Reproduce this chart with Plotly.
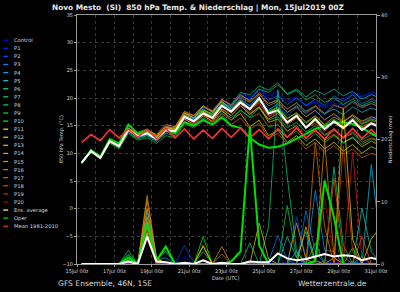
import plotly.graph_objects as go
import pandas as pd

# ---------------- data ----------------
times = pd.date_range("2019-07-15 06:00", periods=33, freq="12h")

member_names = ["Control", "P1", "P2", "P3", "P4", "P5", "P6", "P7", "P8", "P9", "P10",
                "P11", "P12", "P13", "P14", "P15", "P16", "P17", "P18", "P19", "P20"]
member_colors = ["#0000ff", "#0020ff", "#0050ff", "#0080ff", "#00a8ff", "#00cce8", "#00dcb0",
                 "#00dc90", "#00dc70", "#00e040", "#00ff00", "#f0f000", "#f0d800", "#f0c000",
                 "#f0a800", "#f09000", "#f07800", "#f06000", "#f04000", "#e02020", "#b00000"]

t_control = [8.2,10.5,9.3,12.3,11.4,14.6,13.4,14.2,13.0,15.0,14.6,17.4,16.6,18.2,17.6,19.8,18.8,20.6,19.8,21.4,20.0,20.8,19.2,20.4,18.6,19.4,18.4,19.6,19.8,21.0,20.4,20.8,20.6]
t_p1 = [8.4,10.3,9.1,12.0,11.2,14.0,12.9,13.8,12.8,14.6,14.2,17.0,16.0,17.8,17.0,19.6,18.6,20.8,20.2,21.6,20.4,21.2,19.6,20.0,18.8,19.2,18.2,19.0,18.8,20.6,20.2,21.0,20.8]
t_p2 = [8.3,10.6,9.4,12.4,11.6,14.4,13.2,13.4,12.4,14.0,13.6,16.2,15.4,17.0,16.6,18.8,17.8,19.6,18.4,20.2,18.0,18.8,16.8,18.2,16.6,17.6,16.2,17.0,15.8,16.8,15.6,16.4,15.8]
t_p3 = [8.2,10.2,9.0,12.1,11.3,14.2,13.0,13.2,12.2,13.8,13.8,16.4,15.6,17.4,16.8,19.0,18.2,20.0,19.2,21.0,19.6,20.4,18.8,20.0,18.6,19.8,18.6,20.4,19.4,20.6,19.0,19.8,19.2]
t_p4 = [8.4,10.4,9.2,12.2,11.4,14.3,13.1,13.6,12.8,14.4,14.4,17.0,16.2,17.6,16.6,18.4,17.4,19.0,18.0,19.4,17.8,19.0,17.4,18.6,17.2,18.4,17.0,18.6,18.2,19.4,18.4,19.0,18.2]
t_p5 = [8.3,10.5,9.3,12.3,11.2,14.1,12.8,13.4,12.6,14.2,14.0,16.8,16.4,18.4,17.6,19.4,18.0,19.8,18.6,20.6,19.0,19.6,18.0,19.2,17.6,18.6,17.2,18.0,17.0,18.4,17.4,18.2,17.6]
t_p6 = [8.2,10.3,9.2,12.2,11.4,14.4,13.3,13.8,12.8,14.6,14.4,17.2,16.8,18.6,17.4,19.2,18.4,20.4,19.6,21.6,21.0,22.4,20.8,21.6,20.2,21.4,20.6,21.6,20.4,21.2,19.8,20.6,20.0]
t_p7 = [8.3,10.4,9.1,12.0,11.0,13.8,12.6,13.2,12.2,13.6,13.2,15.8,15.0,16.4,15.6,17.6,16.4,17.8,16.6,18.2,16.0,16.6,14.6,15.6,13.8,15.0,13.2,14.2,12.8,13.8,12.4,13.4,12.6]
t_p8 = [8.4,10.6,9.3,12.4,11.5,14.6,13.2,13.8,12.6,14.0,13.6,16.6,16.0,17.8,17.2,19.6,18.8,21.0,20.6,22.2,21.4,22.8,20.6,21.4,19.6,20.6,19.2,20.0,18.8,19.8,18.6,19.4,18.8]
t_p9 = [8.2,10.2,9.0,11.8,10.8,13.6,12.4,12.8,11.8,13.2,12.8,15.4,14.6,16.2,15.2,17.2,16.0,17.8,16.4,17.2,14.8,15.2,13.0,14.0,12.2,13.6,12.0,13.2,11.8,13.0,11.6,12.6,12.0]
t_p10 = [8.3,10.5,9.4,12.5,11.8,15.0,13.8,14.4,13.2,14.8,14.4,17.2,16.4,17.8,16.8,18.8,17.6,19.4,18.2,19.8,17.6,18.4,16.4,17.2,15.4,16.6,15.0,16.2,15.0,16.4,15.2,16.0,15.4]
t_p11 = [8.4,10.4,9.2,12.3,11.4,14.4,13.4,14.0,13.0,14.8,14.2,16.8,15.8,17.6,16.2,17.8,16.0,17.2,14.8,16.0,13.2,14.2,12.0,13.2,11.4,12.6,10.8,12.0,10.4,11.6,10.0,11.2,10.4]
t_p12 = [8.2,10.3,9.2,12.1,11.3,14.3,13.2,13.6,12.8,14.4,13.8,16.2,15.2,16.8,15.8,18.0,16.8,18.6,17.0,18.4,15.6,16.2,14.0,15.0,12.8,14.2,12.4,13.4,12.0,12.8,11.2,12.2,11.4]
t_p13 = [8.3,10.4,9.2,12.2,11.5,14.5,13.6,14.2,13.4,15.2,14.8,17.6,16.8,18.6,17.4,19.4,17.8,19.6,18.0,19.6,17.4,18.2,16.2,17.4,15.6,16.8,15.2,16.6,15.6,17.0,15.8,16.6,16.0]
t_p14 = [8.4,10.5,9.3,12.2,11.3,14.2,13.4,14.2,13.2,14.8,14.6,17.4,16.4,18.0,17.0,19.0,17.6,19.0,17.2,18.4,16.2,17.2,15.2,16.4,14.6,15.8,14.0,15.6,14.4,16.0,14.8,15.6,15.0]
t_p15 = [8.3,10.4,9.1,12.1,11.2,14.1,13.2,14.0,13.0,14.6,14.4,17.2,16.4,18.4,17.6,19.8,18.6,20.6,19.4,20.8,18.6,19.4,17.4,18.4,16.6,17.8,16.0,17.2,15.8,16.8,15.4,16.2,15.6]
t_p16 = [8.2,10.3,9.0,12.0,11.1,14.0,13.0,13.8,12.8,14.4,14.0,16.8,16.0,17.6,16.6,18.6,17.4,19.2,17.8,19.2,16.8,17.6,15.4,16.6,14.6,15.4,13.4,14.4,12.8,13.6,12.0,12.8,12.2]
t_p17 = [8.3,10.4,9.2,12.2,11.4,14.4,13.3,14.0,12.8,14.4,14.2,16.8,15.6,17.2,15.6,17.0,15.2,16.4,14.4,15.4,12.8,13.6,11.6,12.6,10.8,12.0,10.2,11.4,9.8,10.8,9.2,10.0,9.4]
t_p18 = [8.4,10.5,9.4,12.4,11.6,14.6,13.4,14.2,13.2,14.8,14.6,17.4,16.8,18.4,17.8,19.6,18.8,20.2,19.2,20.8,19.0,19.8,18.0,19.0,17.4,18.6,17.2,18.8,18.0,19.2,18.2,19.0,18.4]
t_p19 = [8.3,10.4,9.2,12.2,11.4,14.4,13.2,13.8,12.6,14.2,13.8,16.4,15.4,17.0,16.2,18.2,17.0,18.8,17.4,19.0,16.6,17.4,15.6,16.8,15.0,16.0,14.4,15.8,14.8,16.2,14.6,15.6,15.0]
t_p20 = [8.2,10.3,9.1,12.1,11.3,14.2,13.1,13.6,12.4,14.0,13.4,16.0,15.0,16.6,15.4,17.4,16.0,17.4,16.0,17.4,15.0,15.8,13.8,14.8,13.0,14.2,12.2,13.6,12.6,14.0,12.8,13.8,13.2]
t_ens_avg = [8.3,10.4,9.2,12.2,11.3,14.3,13.1,13.6,12.6,14.2,14.0,16.6,15.8,17.2,16.4,18.6,17.5,19.2,18.0,20.0,17.2,17.8,15.6,16.8,14.6,16.2,14.4,15.8,14.6,16.0,14.2,15.4,14.6]
t_oper = [8.2,10.6,9.4,12.6,11.8,15.2,13.6,14.0,12.8,14.2,13.6,15.6,15.0,16.0,15.2,16.5,15.0,14.6,12.8,11.6,11.0,11.2,11.8,12.6,13.5,14.4,15.0,15.5,15.6,15.3,14.6,13.6,12.8]
t_mean = [12.0,13.4,12.3,14.3,12.8,14.4,12.9,14.3,12.6,14.5,12.8,14.4,12.6,14.2,12.7,14.5,12.9,14.6,12.8,14.3,12.6,14.4,12.9,14.6,12.7,14.2,12.6,14.4,12.8,14.5,12.7,14.3,12.6]

p_control = [0,0,0,0,0,0.4,0,4.6,0.6,0,0,1.2,0,0,0,0,0,0,0.3,0,0,0.8,0,0,0.5,0,0,0.4,0,0,0.3,0,0]
p_p1 = [0,0,0,0,0,0,0.5,7.2,0.4,0,0,0,0,0,0,0,0,0,0,0,0,0,0,0,0,0,0.6,0,0,0,0,0,0]
p_p2 = [0,0,0,0,0,0.3,0,5.8,0,0,0,3.0,0.2,0,0,0,0,0,0,0,0,0,0,7.6,1.0,0,0,0,0,0.4,0,0,0]
p_p3 = [0,0,0,0,0,0,0,8.2,0.8,0,0,0,0,0,0,0,0,0,0,0,0.4,4.6,0.6,0,8.6,2.0,0,0,0,0,0,0,0]
p_p4 = [0,0,0,0,0,0,0,6.4,0.6,1.0,0,0,0,0,0,0,0,0,0,0,0,0,0,0,0,11.8,2.2,2.0,0,0,0,0,0]
p_p5 = [0,0,0,0,0,0.8,0,8.8,1.2,0,0,0,0,0,0,0,0,0,0,0,0,0,0,2.0,0,0,0,0,0,0,0,16.0,3.0]
p_p6 = [0,0,0,0,0,0,0,6.0,0,0,0,0,0,0,0,0,0,0,0,0,0,0,4.4,1.0,5.2,0,0,0,0,0,9.0,2.0,0]
p_p7 = [0,0,0,0,0,1.6,0,5.2,0.8,2.0,0,0,0,0.5,0,0,0,0,3.4,0,0,0,0,0,0,0,0,15.6,3.0,0,1.2,0,0]
p_p8 = [0,0,0,0,0,0,0,4.8,0,0,0,0,0,0,0,0,0,0,0,0,6.0,28.0,14.0,2.0,0,0,0,0,0,0,0,0,0]
p_p9 = [0,0,0,0,0,2.2,0,5.6,0.6,2.6,0,0,0,2.0,0,0,0,0,0,0,0,0,9.4,1.0,0,3.4,0,0,0,0,0,0,0]
p_p10 = [0,0,0,0,0,1.4,0,6.4,1.0,0,0,0,0,4.4,0,0,0,0,0,0,0,0,0,0,0,0,0,0,0,2.6,0,0,0]
p_p11 = [0,0,0,0,0,0,0,5.0,0,0,0,0,0,2.8,0,0,0,0,0,0,0,0,0,0,0,0,0,0,25.0,4.0,0,0,0]
p_p12 = [0,0,0,0,0,0.6,0,6.8,0.4,0,0,0,0,0,0,0,0,0,0,6.6,0.8,0,0,0,0,0,0,0,0,0,0,4.0,6.0]
p_p13 = [0,0,0,0,0,0,0,7.6,0.6,0,0,0,0,3.0,0,0,0,0,0,0,0,0,0,0,6.0,0.5,0,1.0,0,0,0,0,0]
p_p14 = [0,0,0,0,0,0.4,0,11.0,1.0,0,0,0,0,0,0,2.8,0,0,0,0,0,0,0,6.6,0.8,0,0,0,0,0,0,0,0]
p_p15 = [0,0,0,0,0,0,0,10.2,0.8,0,0,0,0,0,0,0,0,0,0,0,0,0,0,0,0,0,20.0,1.0,0,0,0,0,0]
p_p16 = [0,0,0,0,0,0,0,9.0,0.4,0,0,0,0,0,0,1.6,0,0,0,0,0,0,0,0,0,19.5,6.0,0,0,0,0,0,0]
p_p17 = [0,0,0,0,0,0,0,7.0,0,0,0,0,0,0,0,0,0,0,0,0,0,0,0,0,0,0,0,13.8,1.2,0,4.4,0,0]
p_p18 = [0,0,0,0,0,0,0,6.0,0.3,0,0,0,0,0,0,0,0,0,0,0,0,0,0,0,0,0,0,0,19.0,2.0,0,0,0]
p_p19 = [0,0,0,0,0,0,0,5.4,0,0,0,0,0,0,0,0,0,0,0,0,0,0,0,0,0,0,0,0,0,18.0,1.0,0,0]
p_p20 = [0,0,0,0,0,0,0,4.0,0,0,0,0,0,0,0,0,0,0,0,0,0,0,0,0,0,0,10.6,0.8,0,0,0,0,0]
p_ens_avg = [0,0,0,0,0,0.4,0,4.4,0.4,0.3,0,0.2,0,0.6,0,0.2,0,0,0.4,0.3,0.3,1.7,0.9,0.6,0.8,1.2,1.6,1.2,1.4,1.3,0.6,1.0,0.6]
p_oper = [0,0,0,0,0,1.0,0,6.6,0.5,2.8,0,0,0,0,0,0,0.4,2.0,22.0,3.0,0,0,0,0,0,0.5,13.4,7.5,0,0,0,0,0]

temp_members = [t_control, t_p1, t_p2, t_p3, t_p4, t_p5, t_p6, t_p7, t_p8, t_p9, t_p10,
                t_p11, t_p12, t_p13, t_p14, t_p15, t_p16, t_p17, t_p18, t_p19, t_p20]
prec_members = [p_control, p_p1, p_p2, p_p3, p_p4, p_p5, p_p6, p_p7, p_p8, p_p9, p_p10,
                p_p11, p_p12, p_p13, p_p14, p_p15, p_p16, p_p17, p_p18, p_p19, p_p20]

left_ticks = [-10, -5, 0, 5, 10, 15, 20, 25, 30, 35]
right_ticks = [0, 10, 20, 30, 40]

# ---------------- figure ----------------
W, H = 400, 292
ML, MR, MT, MB = 77, 19, 14, 28
PW, PH = W - ML - MR, H - MT - MB

fig = go.Figure()

for name, col, pr in zip(member_names, member_colors, prec_members):
    fig.add_trace(go.Scatter(x=times, y=pr, yaxis="y2", mode="lines", name=name,
                             line=dict(color=col, width=1), opacity=0.7, showlegend=False))
for name, col, tm in zip(member_names, member_colors, temp_members):
    fig.add_trace(go.Scatter(x=times, y=tm, mode="lines", name=name,
                             line=dict(color=col, width=1), opacity=0.7, showlegend=False))

fig.add_trace(go.Scatter(x=times, y=p_oper, yaxis="y2", mode="lines", line=dict(color="#00e000", width=2), showlegend=False))
fig.add_trace(go.Scatter(x=times, y=t_oper, mode="lines", line=dict(color="#00e000", width=2), showlegend=False))
fig.add_trace(go.Scatter(x=times, y=p_ens_avg, yaxis="y2", mode="lines", line=dict(color="#ffffff", width=2), showlegend=False))
fig.add_trace(go.Scatter(x=times, y=t_ens_avg, mode="lines", line=dict(color="#ffffff", width=2), showlegend=False))
fig.add_trace(go.Scatter(x=times, y=t_mean, mode="lines", line=dict(color="#ff3030", width=1.6), showlegend=False))

DAY = 86400000
fig.update_layout(
    width=W, height=H,
    margin=dict(l=ML, r=MR, t=MT, b=MB),
    paper_bgcolor="#000000", plot_bgcolor="#000000",
    font=dict(family="DejaVu Sans", color="#d8d8d8", size=5),
    showlegend=False,
    xaxis=dict(type="date", range=["2019-07-15 00:00", "2019-07-31 00:00"],
               dtick=2 * DAY, tick0="2019-07-15", tickformat="%d%b %Hz",
               tickfont=dict(size=5, color="#d8d8d8"),
               showgrid=True, gridcolor="#3a3a3a", griddash="dot", gridwidth=1,
               minor=dict(dtick=DAY, showgrid=True, gridcolor="#3a3a3a", griddash="dot"),
               showline=True, linecolor="#9a9a9a", linewidth=1, mirror=True,
               ticks="outside", ticklen=2, tickcolor="#9a9a9a", zeroline=False),
    yaxis=dict(range=[-10, 35], tickvals=left_ticks, tickfont=dict(size=5, color="#d8d8d8"),
               showgrid=True, gridcolor="#3a3a3a", griddash="dot",
               showline=True, linecolor="#9a9a9a", linewidth=1, mirror=True,
               ticks="outside", ticklen=2, tickcolor="#9a9a9a", zeroline=False),
    yaxis2=dict(range=[0, 40], tickvals=right_ticks, overlaying="y", side="right",
                tickfont=dict(size=5, color="#d8d8d8"), showgrid=False, zeroline=False,
                showline=True, linecolor="#9a9a9a", ticks="outside", ticklen=3, tickcolor="#9a9a9a"),
)

def px_x(px):
    return (px - ML) / PW

def px_y(py):
    return (H - MB - py) / PH

annotations = []
shapes = []

# legend (manual, compact rows)
legend_names = member_names + ["Ens. average", "Oper", "Mean 1981-2010"]
legend_cols = member_colors + ["#ffffff", "#00e000", "#ff3030"]
for k, (nm, c) in enumerate(zip(legend_names, legend_cols)):
    py = 39.3 + k * 8.12
    shapes.append(dict(type="line", xref="paper", yref="paper", x0=px_x(2), x1=px_x(7),
                       y0=px_y(py), y1=px_y(py), line=dict(color=c, width=1.2)))
    annotations.append(dict(text=nm, xref="paper", yref="paper", x=px_x(10.5), y=px_y(py),
                            xanchor="left", yanchor="middle", showarrow=False,
                            font=dict(size=5.2, color="#d8d8d8")))

annotations += [
    dict(text="<b>Novo Mesto  (SI)  850 hPa Temp. & Niederschlag | Mon, 15Jul2019 00Z</b>",
         xref="paper", yref="paper", x=px_x(200), y=px_y(6.5), xanchor="center", yanchor="middle",
         showarrow=False, font=dict(size=7.4, color="#e8e8e8")),
    dict(text="GFS Ensemble, 46N, 15E", xref="paper", yref="paper", x=px_x(56), y=px_y(283.5),
         xanchor="left", yanchor="middle", showarrow=False, font=dict(size=7.6, color="#d8d8d8")),
    dict(text="Wetterzentrale.de", xref="paper", yref="paper", x=px_x(374), y=px_y(283.5),
         xanchor="right", yanchor="middle", showarrow=False, font=dict(size=7.6, color="#d8d8d8")),
    dict(text="Date (UTC)", xref="paper", yref="paper", x=px_x(228), y=px_y(278),
         xanchor="center", yanchor="middle", showarrow=False, font=dict(size=5, color="#d8d8d8")),
    dict(text="850 hPa Temp. (°C)", xref="paper", yref="paper", x=px_x(61.5), y=px_y(139),
         xanchor="center", yanchor="middle", textangle=-90, showarrow=False,
         font=dict(size=5, color="#d8d8d8")),
    dict(text="Niederschlag (mm)", xref="paper", yref="paper", x=px_x(396), y=px_y(139),
         xanchor="center", yanchor="middle", textangle=-90, showarrow=False,
         font=dict(size=5, color="#d8d8d8")),
]

fig.update_layout(annotations=annotations, shapes=shapes)
fig.write_html("out.html")
